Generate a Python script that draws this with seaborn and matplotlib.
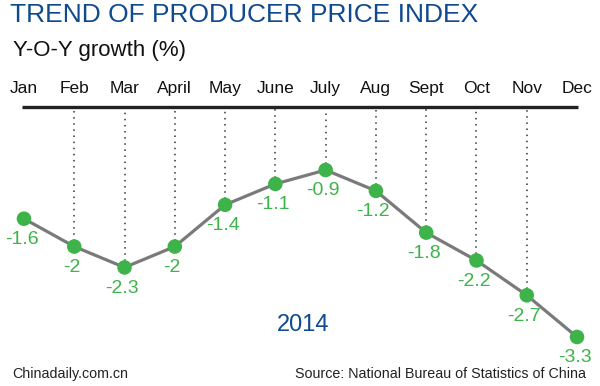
import matplotlib
matplotlib.use('Agg')
import matplotlib.pyplot as plt
import seaborn as sns
import pandas as pd

months = ['Jan', 'Feb', 'Mar', 'April', 'May', 'June', 'July', 'Aug', 'Sept', 'Oct', 'Nov', 'Dec']
ppi = [-1.6, -2.0, -2.3, -2.0, -1.4, -1.1, -0.9, -1.2, -1.8, -2.2, -2.7, -3.3]
labels = ['-1.6', '-2', '-2.3', '-2', '-1.4', '-1.1', '-0.9', '-1.2', '-1.8', '-2.2', '-2.7', '-3.3']

GREEN = '#3db34a'
BLUE = '#0f4a8f'

if __name__ == '__main__':
    sns.set_style('white')
    plt.rcParams['font.family'] = ['Liberation Sans', 'DejaVu Sans']
    df = pd.DataFrame({'idx': range(len(months)), 'month': months, 'ppi': ppi, 'label': labels})

    fig = plt.figure(figsize=(6, 3.86), dpi=100)
    ax = fig.add_axes([0, 0, 1, 1])

    # header bar and dotted drop lines
    ax.hlines(0, df.idx.iloc[0] - 0.04, df.idx.iloc[-1] + 0.02, color='#222222', linewidth=2.4, zorder=2)
    inner = df.iloc[1:-1]
    ax.vlines(inner.idx, inner.ppi, 0, color='#333333', linestyles=(0, (1, 3)), linewidth=1.1, zorder=1)

    sns.lineplot(data=df, x='idx', y='ppi', color='#7a7a7a', linewidth=2.3, ax=ax, zorder=3)
    sns.scatterplot(data=df, x='idx', y='ppi', color=GREEN, s=110, edgecolor='none', ax=ax, zorder=4)
    ax.set_xlim(-0.477, 11.457)
    ax.set_ylim(-4.004, 1.543)
    ax.axis('off')

    for _, r in df.iterrows():
        ax.text(r.idx, 0.27, r.month, ha='center', va='center', fontsize=12.5, color='#111111')
        ax.text(r.idx - 0.05, r.ppi - 0.30, r.label, ha='center', va='center', fontsize=14, color=GREEN)

    fig.text(0.017, 0.962, 'TREND OF PRODUCER PRICE INDEX', fontsize=19, color=BLUE, ha='left', va='center')
    fig.text(0.022, 0.87, 'Y-O-Y growth (%)', fontsize=16, color='#111111', ha='left', va='center')
    fig.text(0.505, 0.158, '2014', fontsize=17, color=BLUE, ha='center', va='center')
    fig.text(0.02, 0.031, 'Chinadaily.com.cn', fontsize=10.3, color='#222222', ha='left', va='center')
    fig.text(0.976, 0.031, 'Source: National Bureau of Statistics of China', fontsize=10.3, color='#222222',
             ha='right', va='center')

    fig.savefig('out.png', dpi=100, facecolor='white')
